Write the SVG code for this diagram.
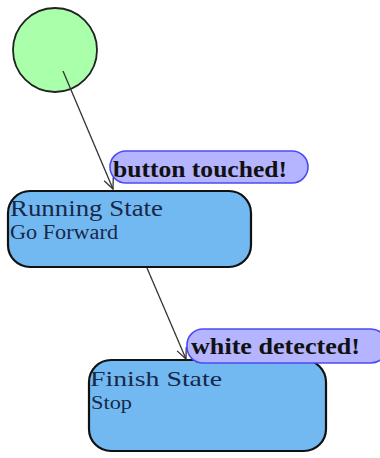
<svg xmlns="http://www.w3.org/2000/svg" width="380" height="458" viewBox="0 0 380 458">
  <defs>
    <style>
      .state { fill: #73b9f1; stroke: #111; stroke-width: 2.2; }
      .start { fill: #aaffaa; stroke: #222; stroke-width: 1.8; }
      .pill { fill: #b4b4ff; stroke: #4b4bf5; stroke-width: 1.6; }
      .name { font-family: "Liberation Serif", "DejaVu Serif", serif; fill: #17284a; }
      .label { font-family: "Liberation Serif", "DejaVu Serif", serif; font-weight: bold; fill: #111; font-size: 24px; }
      .edge { stroke: #333; stroke-width: 1.3; fill: none; }
    </style>
    <marker id="arrow" markerUnits="userSpaceOnUse" markerWidth="16" markerHeight="16" viewBox="-12 -8 14 16" refX="0" refY="0" orient="auto">
      <path d="M-11,-5 L0,0 L-11,5" fill="none" stroke="#333" stroke-width="1.3"/>
    </marker>
  </defs>

  <!-- initial pseudo-state -->
  <g id="start">
    <circle class="start" cx="55" cy="50" r="42"/>
  </g>

  <!-- state: Running -->
  <g id="running">
    <rect class="state" x="8" y="191" width="243" height="76" rx="22" ry="22"/>
    <text class="name" x="10" y="216" font-size="23" textLength="153" lengthAdjust="spacingAndGlyphs">Running State</text>
    <text class="name" x="10" y="239" font-size="20" textLength="108" lengthAdjust="spacingAndGlyphs">Go Forward</text>
  </g>

  <!-- state: Finish -->
  <g id="finish">
    <rect class="state" x="89" y="360" width="237" height="91" rx="22" ry="22"/>
    <text class="name" x="90" y="386" font-size="22" textLength="132" lengthAdjust="spacingAndGlyphs">Finish State</text>
    <text class="name" x="91" y="409" font-size="19" textLength="41" lengthAdjust="spacingAndGlyphs">Stop</text>
  </g>

  <!-- transitions -->
  <g id="connectors">
    <line class="edge" x1="63" y1="71" x2="113" y2="189" marker-end="url(#arrow)"/>
    <line class="edge" x1="147" y1="268" x2="186" y2="359" marker-end="url(#arrow)"/>
  </g>

  <!-- transition labels -->
  <g id="label-button">
    <rect class="pill" x="110" y="151" width="198" height="32" rx="16" ry="16"/>
    <text class="label" x="113" y="177" textLength="174" lengthAdjust="spacingAndGlyphs">button touched!</text>
  </g>
  <g id="label-white">
    <rect class="pill" x="187" y="329" width="200" height="34" rx="16" ry="16"/>
    <text class="label" x="191" y="354" textLength="169" lengthAdjust="spacingAndGlyphs">white detected!</text>
  </g>
</svg>
